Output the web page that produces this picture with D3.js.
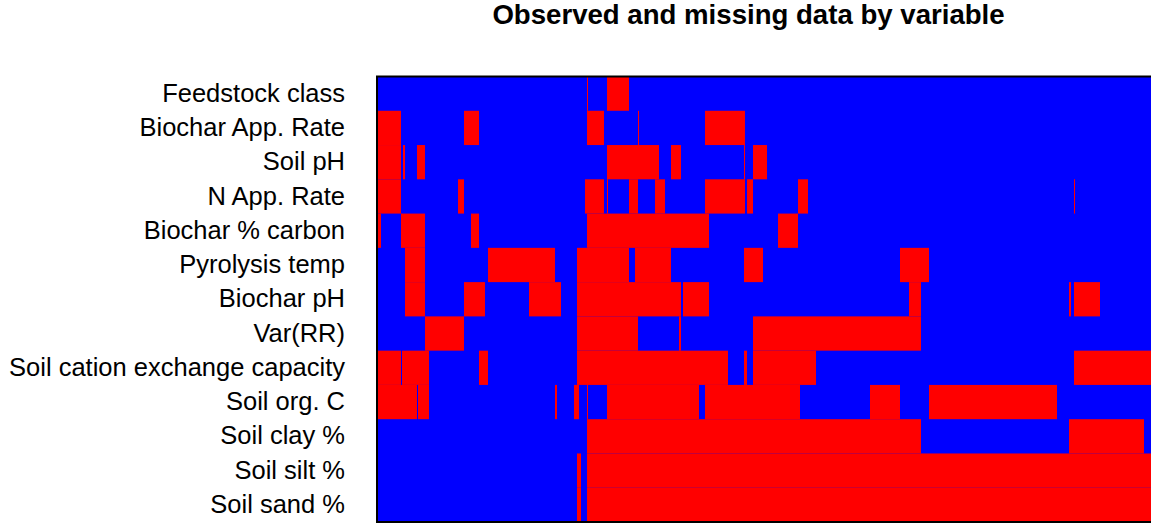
<!DOCTYPE html>
<html>
<head>
<meta charset="utf-8">
<script src="https://cdn.jsdelivr.net/npm/d3@7"></script>
<style>
  html, body { margin: 0; padding: 0; background: #fff; }
  svg { display: block; font-family: "Liberation Sans", Arial, sans-serif; }
</style>
</head>
<body>
<svg id="chart" width="1151" height="526"></svg>
<script>
// Number of observations (columns), ordered as in the missingness map
const nObs = 788;

// Variables, top to bottom
const variables = [
  "Feedstock class",
  "Biochar App. Rate",
  "Soil pH",
  "N App. Rate",
  "Biochar % carbon",
  "Pyrolysis temp",
  "Biochar pH",
  "Var(RR)",
  "Soil cation exchange capacity",
  "Soil org. C",
  "Soil clay %",
  "Soil silt %",
  "Soil sand %"
];

// Runs of missing observations per variable: [first, end) in observation index
const feedstockClass   = [[210, 211], [230, 252]];
const biocharAppRate   = [[0, 24], [87, 102], [210, 227], [261, 262], [328, 368]];
const soilPH           = [[0, 24], [26, 28], [40, 48], [230, 282], [294, 304], [367, 368], [376, 390]];
const nAppRate         = [[0, 24], [81, 87], [208, 227], [230, 231], [252, 261], [278, 288], [328, 368], [370, 376], [421, 431], [697, 698]];
const biocharCarbon    = [[0, 4], [24, 48], [94, 102], [210, 332], [401, 421]];
const pyrolysisTemp    = [[28, 48], [111, 178], [200, 252], [258, 294], [367, 386], [523, 552]];
const biocharPH        = [[28, 48], [87, 108], [152, 184], [200, 304], [306, 332], [532, 544], [692, 694], [697, 723]];
const varRR            = [[48, 87], [200, 261], [302, 304], [376, 544]];
const soilCEC          = [[0, 24], [25, 52], [102, 111], [200, 351], [367, 370], [376, 439], [697, 788]];
const soilOrgC         = [[0, 40], [41, 52], [178, 180], [197, 202], [210, 211], [230, 322], [328, 423], [493, 523], [552, 680]];
const soilClay         = [[210, 544], [692, 767]];
const soilSilt         = [[200, 204], [210, 788]];
const soilSand         = [[200, 204], [210, 788]];

const missingRuns = [
  feedstockClass, biocharAppRate, soilPH, nAppRate, biocharCarbon,
  pyrolysisTemp, biocharPH, varRR, soilCEC, soilOrgC,
  soilClay, soilSilt, soilSand
];

const titleText = "Observed and missing data by variable";
const observedColor = "#0000ff";
const missingColor = "#ff0000";

const svg = d3.select("#chart");

const plot = { left: 377, right: 1165, top: 76.5, bottom: 522 };

const x = d3.scaleLinear().domain([0, nObs]).range([plot.left, plot.right]);
const y = d3.scaleBand().domain(variables).range([plot.top, plot.bottom]).padding(0);

// Observed background for each variable
svg.append("g")
  .selectAll("rect")
  .data(variables)
  .join("rect")
  .attr("x", x(0))
  .attr("width", x(nObs) - x(0))
  .attr("y", d => y(d))
  .attr("height", y.bandwidth())
  .attr("fill", observedColor)
  .attr("shape-rendering", "crispEdges");

// Missing runs
const cells = [];
variables.forEach((v, i) => {
  missingRuns[i].forEach(([a, b]) => cells.push({ variable: v, start: a, end: b }));
});

svg.append("g")
  .selectAll("rect")
  .data(cells)
  .join("rect")
  .attr("x", d => x(d.start))
  .attr("width", d => Math.max(1, x(d.end) - x(d.start)))
  .attr("y", d => y(d.variable))
  .attr("height", y.bandwidth())
  .attr("fill", missingColor);

// Plot frame
svg.append("rect")
  .attr("x", plot.left)
  .attr("y", plot.top)
  .attr("width", plot.right - plot.left)
  .attr("height", plot.bottom - plot.top)
  .attr("fill", "none")
  .attr("stroke", "#000")
  .attr("stroke-width", 2);

// Variable labels
const yAxis = d3.axisLeft(y).tickSize(0).tickPadding(0);
const axisG = svg.append("g")
  .attr("transform", `translate(${345},0)`)
  .call(yAxis);
axisG.select(".domain").remove();
axisG.selectAll("text")
  .attr("font-size", 25.5)
  .attr("font-family", "Liberation Sans, Arial, sans-serif")
  .attr("fill", "#000");

// Title
svg.append("text")
  .attr("x", 748.5)
  .attr("y", 23.5)
  .attr("text-anchor", "middle")
  .attr("font-size", 27.6)
  .attr("font-weight", "bold")
  .attr("fill", "#000")
  .text(titleText);
</script>
</body>
</html>
